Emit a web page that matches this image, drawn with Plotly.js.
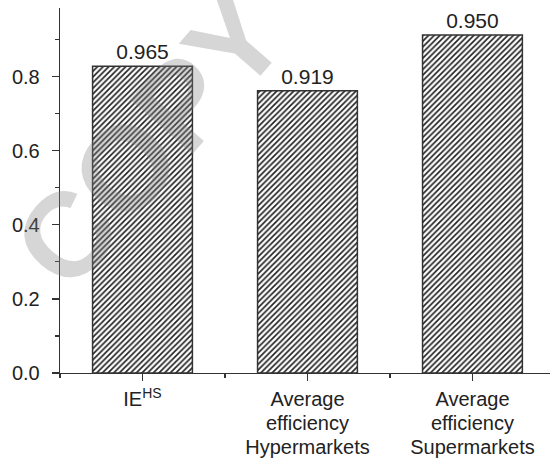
<!DOCTYPE html>
<html>
<head>
<meta charset="utf-8">
<script src="https://cdn.plot.ly/plotly-3.0.1.min.js"></script>
<style>
html,body{margin:0;padding:0;background:#fff;}
#chart{width:550px;height:459px;}
</style>
</head>
<body>
<div id="chart"></div>
<script>
// Data
const categories = ["IE<sup>HS</sup>", "Average<br>efficiency<br>Hypermarkets", "Average<br>efficiency<br>Supermarkets"];
const positions = [0, 1, 2];
const barHeights = [0.828, 0.762, 0.912];
const barLabels = ["0.965", "0.919", "0.950"];
const yTickVals = [0.0, 0.2, 0.4, 0.6, 0.8];

const FONT = "Liberation Sans, Arial, sans-serif";
const INK = "#222222";

const trace = {
  type: "bar",
  x: positions,
  y: barHeights,
  width: 0.605,
  text: barLabels,
  textposition: "outside",
  cliponaxis: false,
  textfont: {family: FONT, size: 21, color: INK},
  marker: {
    color: "#ffffff",
    line: {color: "#333333", width: 1.5},
    pattern: {shape: "/", size: 4, solidity: 0.42, fgcolor: "#222222", bgcolor: "#ffffff"}
  },
  hoverinfo: "skip"
};

const layout = {
  width: 550,
  height: 459,
  margin: {l: 60, r: 0, t: 8, b: 86},
  paper_bgcolor: "#ffffff",
  plot_bgcolor: "#ffffff",
  showlegend: false,
  font: {family: FONT, size: 20, color: INK},
  xaxis: {
    type: "linear",
    range: [-0.5, 2.47],
    tickvals: positions,
    ticktext: categories,
    showgrid: false,
    zeroline: false,
    showline: true,
    linecolor: "#333333",
    linewidth: 1.3,
    ticks: "outside",
    ticklen: 7,
    tickwidth: 1.3,
    tickcolor: "#333333",
    ticklabelstandoff: 1,
    tickfont: {family: FONT, size: 20, color: INK},
    minor: {ticks: "outside", ticklen: 4, tickwidth: 1.3, tickcolor: "#333333", tick0: -0.5, dtick: 1, showgrid: false}
  },
  yaxis: {
    range: [0, 0.985],
    autorange: false,
    tickvals: yTickVals,
    tickformat: ".1f",
    showgrid: false,
    zeroline: false,
    showline: true,
    linecolor: "#333333",
    linewidth: 1.3,
    ticks: "outside",
    ticklen: 7,
    tickwidth: 1.3,
    tickcolor: "#333333",
    ticklabelstandoff: 8,
    tickfont: {family: FONT, size: 20, color: INK},
    minor: {ticks: "outside", ticklen: 4, tickwidth: 1.3, tickcolor: "#333333", tick0: 0.1, dtick: 0.2, showgrid: false}
  },
  annotations: [{
    text: "<b>COPY</b>",
    xref: "paper", yref: "paper",
    x: (149 - 60) / 490, y: (373 - 140) / 365,
    xanchor: "center", yanchor: "middle",
    showarrow: false,
    textangle: -49,
    font: {family: FONT, size: 120, color: "rgba(128,128,128,0.32)"}
  }]
};

Plotly.newPlot("chart", [trace], layout, {displayModeBar: false, staticPlot: true}).then(function (gd) {
  // tighten the line spacing of the multi-line category labels (reference uses ~1.2em instead of 1.3em)
  gd.querySelectorAll(".xtick text tspan.line").forEach(function (t) {
    const dy = t.getAttribute("dy");
    if (dy) {
      const v = parseFloat(dy);
      if (!isNaN(v)) t.setAttribute("dy", (v * 1.2 / 1.3).toFixed(3) + "em");
    }
  });
});
</script>
</body>
</html>
